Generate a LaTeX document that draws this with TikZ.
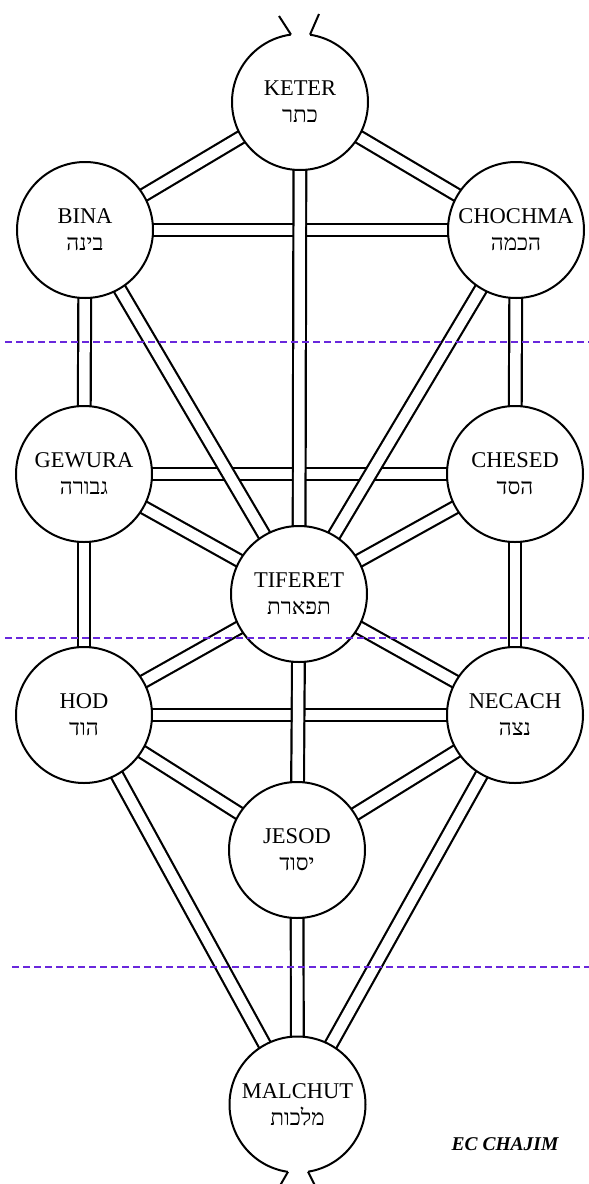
\documentclass[tikz,border=0pt]{standalone}
\usepackage{fontspec}
\setmainfont{Liberation Serif}
\newfontfamily\hebfont[Script=Hebrew]{Liberation Serif}
\TeXXeTstate=1
\usetikzlibrary{backgrounds}
\definecolor{dashviolet}{RGB}{105,40,220}
\newcommand\heb[1]{{\hebfont\beginR #1\endR}}
\tikzset{
  sefira/.style={circle, draw, line width=2pt, fill=white, minimum size=136pt, inner sep=0pt,
    align=center, font=\fontsize{22.5}{24}\selectfont},
  pipe/.style={draw=black, double=white, double distance=10.5pt, line width=2.2pt},
  divider/.style={draw=dashviolet, line width=2pt, dash pattern=on 7pt off 4pt},
  stubline/.style={draw=black, line width=2pt},
}
\begin{document}
\begin{tikzpicture}[x=1pt,y=-1pt]
\useasboundingbox (0,0) rectangle (589,1184);
\clip (0,0) rectangle (589,1184);

\node[sefira] (keter)   at (300,102)  {KETER\\[3pt]\heb{כתר}};
\node[sefira] (bina)    at (85,230)   {BINA\\[3pt]\heb{בינה}};
\node[sefira] (chochma) at (516,230)  {CHOCHMA\\[3pt]\heb{הכמה}};
\node[sefira] (gewura)  at (84,474)   {GEWURA\\[3pt]\heb{גבורה}};
\node[sefira] (chesed)  at (515,474)  {CHESED\\[3pt]\heb{הסד}};
\node[sefira] (tiferet) at (299,594)  {TIFERET\\[3pt]\heb{תפארת}};
\node[sefira] (hod)     at (84,715)   {HOD\\[3pt]\heb{הוד}};
\node[sefira] (necach)  at (515,715)  {NECACH\\[3pt]\heb{נצה}};
\node[sefira] (jesod)   at (297,850)  {JESOD\\[3pt]\heb{יסוד}};
\node[sefira] (malchut) at (297.5,1104.5) {MALCHUT\\[3pt]\heb{מלכות}};

\begin{scope}[on background layer]
  \fill[white] (0,0) rectangle (589,1184);
  % horizontals first
  \draw[pipe] (bina.center) -- (chochma.center);
  \draw[pipe] (gewura.center) -- (chesed.center);
  \draw[pipe] (hod.center) -- (necach.center);
  % verticals and diagonals
  \draw[pipe] (keter.center) -- (bina.center);
  \draw[pipe] (keter.center) -- (chochma.center);
  \draw[pipe] (keter.center) -- (tiferet.center);
  \draw[pipe] (bina.center) -- (gewura.center);
  \draw[pipe] (chochma.center) -- (chesed.center);
  \draw[pipe] (bina.center) -- (tiferet.center);
  \draw[pipe] (chochma.center) -- (tiferet.center);
  \draw[pipe] (gewura.center) -- (tiferet.center);
  \draw[pipe] (chesed.center) -- (tiferet.center);
  \draw[pipe] (gewura.center) -- (hod.center);
  \draw[pipe] (chesed.center) -- (necach.center);
  \draw[pipe] (tiferet.center) -- (hod.center);
  \draw[pipe] (tiferet.center) -- (necach.center);
  \draw[pipe] (tiferet.center) -- (jesod.center);
  \draw[pipe] (hod.center) -- (jesod.center);
  \draw[pipe] (necach.center) -- (jesod.center);
  \draw[pipe] (hod.center) -- (malchut.center);
  \draw[pipe] (necach.center) -- (malchut.center);
  \draw[pipe] (jesod.center) -- (malchut.center);
\end{scope}

% open stubs at top of Keter and bottom of Malchut
\fill[white] ([shift={(-9,-71)}]keter.center) rectangle ([shift={(10,-64.5)}]keter.center);
\draw[stubline] ([shift={(-9,-67.4)}]keter.center) -- ([shift={(-21,-86)}]keter.center);
\draw[stubline] ([shift={(10,-67.3)}]keter.center) -- ([shift={(19,-88)}]keter.center);
\fill[white] ([shift={(-9.5,64.5)}]malchut.center) rectangle ([shift={(10.5,71)}]malchut.center);
\draw[stubline] ([shift={(-9.5,67.3)}]malchut.center) -- ([shift={(-18,82)}]malchut.center);
\draw[stubline] ([shift={(10.5,67.2)}]malchut.center) -- ([shift={(18,82)}]malchut.center);

% dashed dividers
\draw[divider] (5,342) -- (589,342);
\draw[divider] (5,638) -- (589,638);
\draw[divider] (12,967) -- (589,967);

\node[font=\fontsize{19.5}{21}\selectfont\bfseries\itshape] (sign) at (505,1144) {EC CHAJIM};
\end{tikzpicture}
\end{document}
